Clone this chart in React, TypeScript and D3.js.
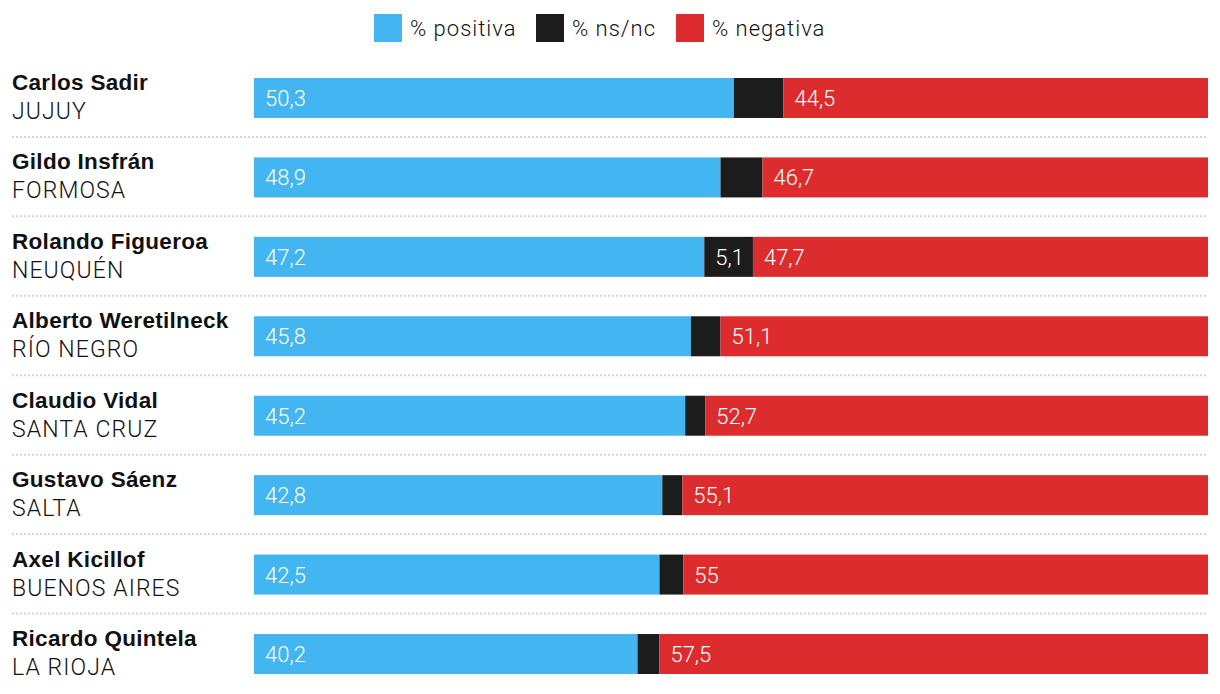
import React from "react";
import * as d3 from "d3";

const names = ["Carlos Sadir", "Gildo Insfrán", "Rolando Figueroa", "Alberto Weretilneck", "Claudio Vidal", "Gustavo Sáenz", "Axel Kicillof", "Ricardo Quintela"];
const provinces = ["JUJUY", "FORMOSA", "NEUQUÉN", "RÍO NEGRO", "SANTA CRUZ", "SALTA", "BUENOS AIRES", "LA RIOJA"];
const positive = [50.3, 48.9, 47.2, 45.8, 45.2, 42.8, 42.5, 40.2];
const nsnc = [5.2, 4.4, 5.1, 3.1, 2.1, 2.1, 2.5, 2.3];
const negative = [44.5, 46.7, 47.7, 51.1, 52.7, 55.1, 55, 57.5];
const nsncLabelShown = [false, false, true, false, false, false, false, false];
const seriesKeys = ["% positiva", "% ns/nc", "% negativa"];
const colors = ["#43B5F1", "#1C1C1C", "#DD2C2D"];

const W = 1220;
const H = 694;
const FONT = "Roboto, 'Noto Sans', sans-serif";
const BOLD = "'Liberation Sans', Arial, sans-serif";

const fmt = (v: number) => String(v).replace(".", ",");

export default function App() {
  const x = d3.scaleLinear().domain([0, 100]).range([254, 1208]);
  const bh = 40;
  const rows = names.map((n, i) => {
    const vals = [positive[i], nsnc[i], negative[i]];
    let acc = 0;
    const segs = vals.map((v, k) => {
      const s = { k, x0: acc, x1: acc + v, v };
      acc += v;
      return s;
    });
    return { i, segs };
  });
  const y = d3.scaleLinear().domain([0, names.length - 1]).range([78, 634]);
  const legendX = [374, 536, 676];

  return (
    <svg width={W} height={H} style={{ position: "absolute", left: 0, top: 0, background: "#fff" }} fontFamily={FONT}>
      {seriesKeys.map((k, j) => (
        <g key={k}>
          <rect x={legendX[j]} y={14} width={28} height={28} fill={colors[j]} />
          <text x={legendX[j] + 36} y={36} fontSize={22} fontWeight={300} letterSpacing={1} fill="#111">{k}</text>
        </g>
      ))}
      {rows.map(({ i, segs }) => {
        const t = y(i);
        return (
          <g key={i}>
            {i > 0 && (
              <line x1={12} x2={1208} y1={t - 20.5} y2={t - 20.5} stroke="#d6d6d6" strokeWidth={2} strokeDasharray="2,2" />
            )}
            <text x={12} y={t + 12} fontSize={22.5} fontWeight={700} letterSpacing={0.3} fill="#111" fontFamily={BOLD}>{names[i]}</text>
            <text x={12} y={t + 41} fontSize={23} fontWeight={300} letterSpacing={1.1} fill="#111">{provinces[i]}</text>
            {segs.map((s) => (
              <rect key={s.k} x={x(s.x0)} y={t} width={x(s.x1) - x(s.x0)} height={bh} fill={colors[s.k]} />
            ))}
            {segs.map((s) =>
              s.k !== 1 || nsncLabelShown[i] ? (
                <text key={"l" + s.k} x={x(s.x0) + 11} y={t + 28} fontSize={22} fontWeight={300} fill="#fff">{fmt(s.v)}</text>
              ) : null
            )}
          </g>
        );
      })}
    </svg>
  );
}
